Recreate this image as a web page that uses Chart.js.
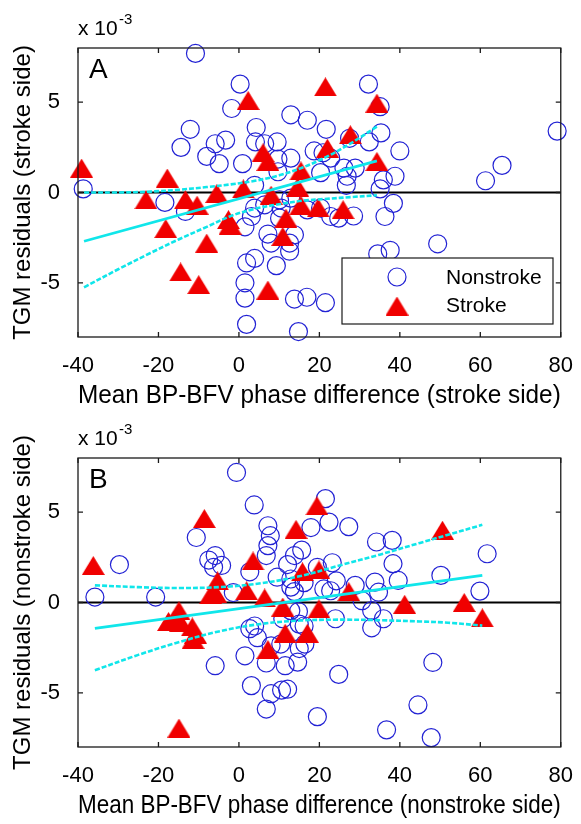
<!DOCTYPE html>
<html>
<head>
<meta charset="utf-8">
<script src="https://cdn.jsdelivr.net/npm/chart.js@4.4.0/dist/chart.umd.min.js"></script>
<style>
  body { margin: 0; background: #fff; width: 581px; height: 824px; overflow: hidden; position: relative; }
  canvas { position: absolute; left: 0; }
</style>
</head>
<body>
<canvas id="panelA" width="581" height="412" style="top:0"></canvas>
<canvas id="panelB" width="581" height="412" style="top:412px"></canvas>
<script>
// axis ticks
var xTicks = [-40, -20, 0, 20, 40, 60, 80];
var yTicks = [-5, 0, 5];

// panel A - stroke side (y in units of 1e-3)
var aNonstrokeX = [-38.7, -10.8, 0.3, 32.2, -1.8, 12.9, 17.0, 4.3, -12.1, 21.7, 35.1, 35.3, -3.3, -5.9, -14.4, 4.1, 6.4, 9.5, 27.5, 32.4, 40.0, -8.0, -4.9, 0.9, 9.7, 12.9, 18.7, 22.8, 20.9, 26.1, 28.9, 26.9, 26.7, 20.3, 9.7, 35.9, 38.8, 35.1, 3.9, 79.1, 65.4, 61.3,
  -18.4, -13.3, 1.5, 3.9, 3.1, 6.4, 7.2, 8.0, 10.1, 10.5, 10.1, 12.9, 13.8, 12.6, 12.6, 17.0, 20.3, 22.8, 24.8, 28.5, 38.4, 36.3, 34.5, 37.6, 49.4, 1.9, 3.9, 9.3, 1.5, 1.5, 13.8, 16.9, 21.5, 1.9, 14.8];
var aNonstrokeY = [0.2, 7.7, 6.0, 6.0, 4.65, 4.3, 4.0, 3.6, 3.5, 3.5, 4.75, 3.3, 2.9, 2.7, 2.5, 2.8, 2.7, 2.8, 3.0, 2.8, 2.3, 2.0, 1.6, 1.6, 1.85, 1.9, 2.3, 1.9, 2.2, 1.35, 1.35, 0.9, 0.4, 1.1, 1.15, 0.7, 0.9, 0.2, 0.4, 3.4, 1.5, 0.65,
  -0.55, -1.05, -1.9, -0.86, -1.33, -0.68, -2.3, -2.8, -0.4, -0.86, -1.42, -0.31, -2.34, -2.8, -3.25, -0.96, -0.86, -1.33, -1.42, -1.3, -0.6, -1.33, -3.4, -3.2, -2.84, -3.9, -3.65, -4.05, -5.0, -5.85, -5.9, -5.8, -6.1, -7.3, -7.7];
var aStrokeX = [-39.1, -17.8, -23.1, -13.3, -10.4, -5.5, 1.1, 8.0, -18.2, -8.0, -14.5, -10.0, 7.2, -2.6, -2.2, 11.7, 10.9, 2.3, 21.5, 34.3, 27.7, 22.0, 34.3, 6.0, 7.2, 15.4, 14.6, 15.4, 19.7, 25.9];
var aStrokeY = [1.35, 0.8, -0.4, -0.4, -0.7, -0.05, 0.2, -0.15, -2.0, -2.8, -4.4, -5.1, -5.4, -1.5, -1.8, -1.42, -2.43, 5.1, 5.85, 4.95, 3.2, 2.45, 1.72, 2.2, 1.72, 1.2, 0.3, -0.7, -0.85, -0.95];
var aFitX = [-38.5, 34.3];
var aFitY = [-2.7, 1.75];
var aBandX = [-38.5, -30, -22, -15, -8, -2, 4, 10, 16, 22, 28, 34.3];
var aUpperY = [0.0, 0.0, 0.05, 0.15, 0.3, 0.45, 0.65, 0.95, 1.4, 2.0, 2.75, 3.65];
var aLowerY = [-5.25, -4.25, -3.35, -2.6, -1.9, -1.3, -0.9, -0.65, -0.45, -0.35, -0.25, -0.15];

// panel B - nonstroke side
var bNonstrokeX = [-35.8, -29.7, -20.7, -10.6, -7.5, -5.9, -4.3, -6.3, -1.4, -0.6, 2.7, 3.8, 7.2, 7.8, 7.2, 6.8, 9.5, 12.1, 13.8, 15.6, 12.9, 12.9, 16.2, 13.8, 19.5, 17.9, 21.5, 22.4, 23.2, 21.1, 22.8, 24.2, 27.3, 28.9, 30.6, 33.8, 34.7, 34.2, 38.1, 38.3, 39.6, 50.2, 61.7, 59.9,
  -5.9, 1.5, 2.7, 3.9, 4.6, 6.8, 3.1, 8.0, 10.6, 12.1, 6.8, 8.0, 10.4, 11.5, 14.6, 15.0, 16.4, 12.9, 14.8, 15.0, 16.2, 10.9, 24.0, 24.8, 19.5, 33.0, 33.0, 35.9, 36.7, 44.5, 48.2, 47.8];
var bNonstrokeY = [0.3, 2.1, 0.3, 3.6, 2.35, 2.6, 2.05, 1.95, 0.55, 7.2, 1.7, 5.4, 4.25, 3.7, 3.15, 2.6, 1.4, 2.1, 2.6, 2.9, 1.3, 0.85, 1.1, 0.6, 1.95, 4.15, 5.75, 4.45, 2.2, 0.75, 0.65, 1.2, 4.2, 0.95, 0.1, 1.13, 0.57, 3.35, 3.44, 2.15, 1.22, 1.5, 2.7, 0.63,
  -3.5, -2.95, -1.45, -1.3, -1.95, -3.35, -4.6, -5.05, -4.85, -4.8, -5.9, -2.4, -2.3, -3.5, -3.3, -2.55, -2.3, -0.45, -0.5, -1.2, -1.3, -0.9, -0.9, -3.98, -6.32, -0.45, -1.4, -0.9, -7.05, -5.67, -3.32, -7.48];
var bStrokeX = [-36.2, -8.6, -5.3, -5.8, -7.0, 1.9, 3.5, 6.4, 10.9, 14.2, 19.4, 15.8, 19.9, 27.3, 19.9, 41.2, 50.6, 56.0, 60.5, -14.9, -17.5, -16.2, -14.5, -11.6, -10.8, -11.4, -14.9, 7.2, 11.5, 17.0];
var bStrokeY = [2.05, 4.65, 1.2, 0.5, 0.45, 0.65, 2.3, 0.25, -0.25, 4.05, 5.35, 1.7, 1.8, 0.6, -0.35, -0.1, 4.0, 0.0, -0.85, -0.45, -1.05, -1.0, -1.1, -1.35, -1.75, -2.05, -6.95, -2.6, -1.7, -1.7];
var bFitX = [-35.8, 60.5];
var bFitY = [-1.43, 1.5];
var bBandX = [-35.8, -25, -15, -5, 5, 15, 25, 35, 45, 52, 60.5];
var bUpperY = [0.95, 0.85, 0.8, 0.85, 1.05, 1.45, 2.05, 2.65, 3.3, 3.75, 4.3];
var bLowerY = [-3.75, -2.9, -2.2, -1.6, -1.2, -1.0, -0.95, -0.98, -1.05, -1.12, -1.28];

var FONT = "'Liberation Sans', Arial, sans-serif";
var BLUE = '#2222d4';
var RED = '#f00000';
var CYAN = '#10e6ea';

function zip(xs, ys) {
  return xs.map(function (x, i) { return { x: x, y: ys[i] }; });
}

// filled red triangle used as marker (centred on its box like the matlab '^')
var tri = document.createElement('canvas');
tri.width = 23; tri.height = 19;
(function () {
  var c = tri.getContext('2d');
  c.fillStyle = RED;
  c.beginPath();
  c.moveTo(11.5, 0); c.lineTo(23, 19); c.lineTo(0, 19);
  c.closePath(); c.fill();
})();

// box, inward ticks, panel letter, exponent and the legend
var decoPlugin = {
  id: 'deco',
  afterDraw: function (chart, args, opts) {
    var ctx = chart.ctx, a = chart.chartArea;
    var xs = chart.scales.x, ys = chart.scales.y;
    ctx.save();
    ctx.strokeStyle = '#1a1a1a';
    ctx.lineWidth = 1.3;
    ctx.strokeRect(a.left, a.top, a.right - a.left, a.bottom - a.top);
    ctx.beginPath();
    xTicks.forEach(function (v) {
      var px = xs.getPixelForValue(v);
      ctx.moveTo(px, a.bottom); ctx.lineTo(px, a.bottom - 5);
      ctx.moveTo(px, a.top); ctx.lineTo(px, a.top + 5);
    });
    yTicks.forEach(function (v) {
      var py = ys.getPixelForValue(v);
      ctx.moveTo(a.left, py); ctx.lineTo(a.left + 5, py);
      ctx.moveTo(a.right, py); ctx.lineTo(a.right - 5, py);
    });
    ctx.stroke();

    ctx.fillStyle = '#000';
    ctx.textBaseline = 'alphabetic';
    ctx.textAlign = 'left';
    ctx.font = '28px ' + FONT;
    ctx.fillText(opts.letter, a.left + 11, a.top + 30);
    ctx.font = '21px ' + FONT;
    ctx.fillText('x 10', a.left, a.top - 13);
    ctx.font = '15px ' + FONT;
    ctx.fillText('-3', a.left + 41, a.top - 24);

    if (opts.legend) {
      ctx.fillStyle = '#fff';
      ctx.fillRect(342, 258, 211, 66);
      ctx.strokeStyle = '#1a1a1a';
      ctx.lineWidth = 1.2;
      ctx.strokeRect(342, 258, 211, 66);
      ctx.strokeStyle = BLUE;
      ctx.beginPath();
      ctx.arc(397, 277, 9, 0, Math.PI * 2);
      ctx.stroke();
      ctx.drawImage(tri, 397 - tri.width / 2, 306 - tri.height / 2);
      ctx.fillStyle = '#000';
      ctx.font = '21px ' + FONT;
      ctx.textBaseline = 'middle';
      ctx.fillText('Nonstroke', 446, 278);
      ctx.fillText('Stroke', 446, 306);
    }
    ctx.restore();
  }
};

function makePanel(id, d) {
  return new Chart(document.getElementById(id), {
    type: 'scatter',
    data: {
      datasets: [
        { label: 'fit', type: 'line', data: zip(d.fitX, d.fitY), borderColor: CYAN, borderWidth: 2.8, pointRadius: 0, fill: false },
        { label: 'upper', type: 'line', data: zip(d.bandX, d.upperY), borderColor: CYAN, borderWidth: 2.6, borderDash: [5, 2], pointRadius: 0, fill: false, tension: 0.35 },
        { label: 'lower', type: 'line', data: zip(d.bandX, d.lowerY), borderColor: CYAN, borderWidth: 2.6, borderDash: [5, 2], pointRadius: 0, fill: false, tension: 0.35 },
        { label: 'Stroke', data: zip(d.strokeX, d.strokeY), pointStyle: tri, pointRadius: 10, clip: false },
        { label: 'Nonstroke', data: zip(d.nonX, d.nonY), pointStyle: 'circle', pointRadius: 9, borderColor: BLUE, borderWidth: 1.2, backgroundColor: 'rgba(0,0,0,0)', clip: false },
        { label: 'zero', type: 'line', data: [{ x: -40, y: 0 }, { x: 80, y: 0 }], borderColor: '#000', borderWidth: 2.2, pointRadius: 0, fill: false }
      ]
    },
    options: {
      responsive: false,
      animation: false,
      events: [],
      layout: { padding: { top: d.padTop, right: 15, left: 0, bottom: 0 } },
      plugins: {
        legend: { display: false },
        tooltip: { enabled: false },
        deco: { letter: d.letter, legend: d.legend }
      },
      scales: {
        x: {
          type: 'linear', min: -40, max: 80,
          grid: { display: false }, border: { display: false },
          afterBuildTicks: function (s) { s.ticks = xTicks.map(function (v) { return { value: v }; }); },
          ticks: { color: '#000', font: { family: FONT, size: 22 }, padding: 8, maxRotation: 0 },
          title: { display: true, text: d.xTitle, color: '#000', font: { family: FONT, size: 25 }, padding: { top: 0, bottom: d.xTitlePad } },
          afterFit: function (s) { s.height = d.xAxisH; }
        },
        y: {
          type: 'linear', min: -8, max: 8,
          grid: { display: false }, border: { display: false },
          afterBuildTicks: function (s) { s.ticks = yTicks.map(function (v) { return { value: v }; }); },
          ticks: { color: '#000', font: { family: FONT, size: 22 }, padding: 10 },
          title: { display: true, text: d.yTitle, color: '#000', font: { family: FONT, size: 24 }, padding: { top: 9, bottom: 0 } },
          afterFit: function (s) { s.width = 78; }
        }
      }
    },
    plugins: [decoPlugin]
  });
}

makePanel('panelA', {
  nonX: aNonstrokeX, nonY: aNonstrokeY, strokeX: aStrokeX, strokeY: aStrokeY,
  fitX: aFitX, fitY: aFitY, bandX: aBandX, upperY: aUpperY, lowerY: aLowerY,
  padTop: 48, xAxisH: 75, xTitlePad: 1, letter: 'A', legend: true,
  xTitle: 'Mean BP-BFV phase difference (stroke side)',
  yTitle: 'TGM residuals (stroke side)'
});
makePanel('panelB', {
  nonX: bNonstrokeX, nonY: bNonstrokeY, strokeX: bStrokeX, strokeY: bStrokeY,
  fitX: bFitX, fitY: bFitY, bandX: bBandX, upperY: bUpperY, lowerY: bLowerY,
  padTop: 46, xAxisH: 77, xTitlePad: 3, letter: 'B', legend: false,
  xTitle: 'Mean BP-BFV phase difference (nonstroke side)',
  yTitle: 'TGM residuals (nonstroke side)'
});
</script>
</body>
</html>
